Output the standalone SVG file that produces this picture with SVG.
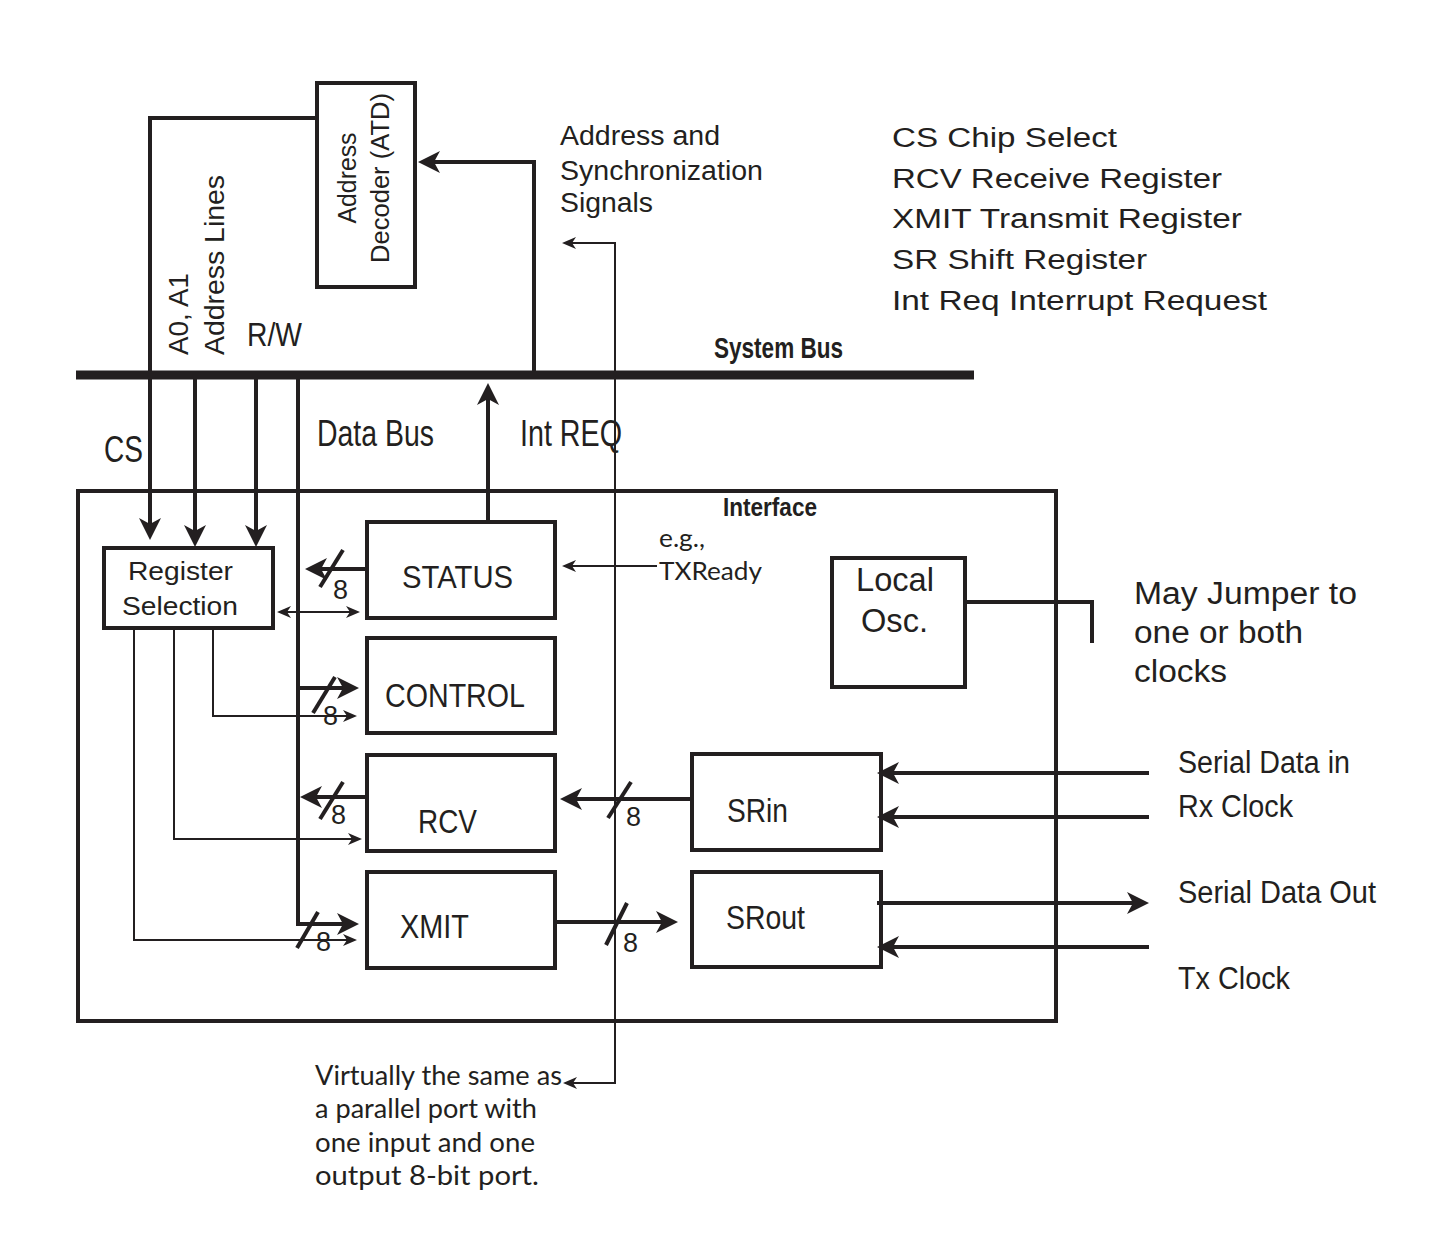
<svg xmlns="http://www.w3.org/2000/svg" width="1450" height="1258" viewBox="0 0 1450 1258">
<style>
  .box{fill:none;stroke:#231f20;stroke-width:4}
  .w{fill:none;stroke:#231f20;stroke-width:4}
  .t{fill:none;stroke:#231f20;stroke-width:2}
  .bus{fill:none;stroke:#231f20;stroke-width:9}
  text{fill:#231f20;font-family:"Liberation Sans",Arial,sans-serif}
  .b{font-weight:bold}
  .h{font-family:Lato,"Open Sans",sans-serif}
</style>
<defs>
  <marker id="ah" markerUnits="userSpaceOnUse" markerWidth="24" markerHeight="24" refX="12" refY="12" orient="auto" overflow="visible">
    <path d="M0,1 L22,12 L0,23 L6,12 Z" fill="#231f20"/>
  </marker>
  <marker id="as" markerUnits="userSpaceOnUse" markerWidth="16" markerHeight="14" refX="6" refY="7" orient="auto-start-reverse" overflow="visible">
    <path d="M0,1 L14,7 L0,13 L4,7 Z" fill="#231f20"/>
  </marker>
</defs>
<rect width="1450" height="1258" fill="#ffffff"/>

<g id="system-bus">
  <line class="bus" x1="76" y1="375" x2="974" y2="375"/>
  <text class="b" x="714" y="358" font-size="29" textLength="129" lengthAdjust="spacingAndGlyphs">System Bus</text>
</g>

<g id="interface">
  <rect class="box" x="78" y="491" width="978" height="530"/>
  <text class="b" x="723" y="516" font-size="26" textLength="94" lengthAdjust="spacingAndGlyphs">Interface</text>
</g>

<g id="address-decoder">
  <rect class="box" x="317" y="83" width="98" height="204"/>
  <text transform="translate(356,178) rotate(-90)" text-anchor="middle" font-size="26" textLength="91" lengthAdjust="spacingAndGlyphs">Address</text>
  <text transform="translate(389,178) rotate(-90)" text-anchor="middle" font-size="26" textLength="170" lengthAdjust="spacingAndGlyphs">Decoder (ATD)</text>
</g>

<g id="register-selection">
  <rect class="box" x="104" y="548" width="169" height="80"/>
  <text x="128" y="580" font-size="25" textLength="105" lengthAdjust="spacingAndGlyphs">Register</text>
  <text x="122" y="615" font-size="25" textLength="116" lengthAdjust="spacingAndGlyphs">Selection</text>
</g>

<g id="status">
  <rect class="box" x="367" y="522" width="188" height="96"/>
  <text x="402" y="588" font-size="32" textLength="111" lengthAdjust="spacingAndGlyphs">STATUS</text>
</g>
<g id="control">
  <rect class="box" x="367" y="638" width="188" height="95"/>
  <text x="385" y="707" font-size="34" textLength="140" lengthAdjust="spacingAndGlyphs">CONTROL</text>
</g>
<g id="rcv">
  <rect class="box" x="367" y="755" width="188" height="96"/>
  <text x="418" y="833" font-size="34" textLength="59" lengthAdjust="spacingAndGlyphs">RCV</text>
</g>
<g id="xmit">
  <rect class="box" x="367" y="872" width="188" height="96"/>
  <text x="400" y="938" font-size="34" textLength="69" lengthAdjust="spacingAndGlyphs">XMIT</text>
</g>
<g id="srin">
  <rect class="box" x="692" y="754" width="189" height="96"/>
  <text x="727" y="822" font-size="34" textLength="61" lengthAdjust="spacingAndGlyphs">SRin</text>
</g>
<g id="srout">
  <rect class="box" x="692" y="872" width="189" height="95"/>
  <text x="726" y="929" font-size="34" textLength="79" lengthAdjust="spacingAndGlyphs">SRout</text>
</g>
<g id="local-osc">
  <rect class="box" x="832" y="558" width="133" height="129"/>
  <text x="856" y="591" font-size="33" textLength="78" lengthAdjust="spacingAndGlyphs">Local</text>
  <text x="861" y="632" font-size="33" textLength="67" lengthAdjust="spacingAndGlyphs">Osc.</text>
</g>

<g id="connectors">
  <path class="w" d="M317,118 H150 V530" marker-end="url(#ah)"/>
  <path class="w" d="M195,375 V537" marker-end="url(#ah)"/>
  <path class="w" d="M256,375 V537" marker-end="url(#ah)"/>
  <path class="w" d="M298,375 V924 H349" marker-end="url(#ah)"/>
  <path class="w" d="M534,375 V162 H428" marker-end="url(#ah)"/>
  <path class="w" d="M488,522 V393" marker-end="url(#ah)"/>
  <path class="w" d="M367,569 H315" marker-end="url(#ah)"/>
  <path class="w" d="M298,688 H349" marker-end="url(#ah)"/>
  <path class="w" d="M367,797 H310" marker-end="url(#ah)"/>
  <path class="w" d="M692,799 H570" marker-end="url(#ah)"/>
  <path class="w" d="M555,922 H668" marker-end="url(#ah)"/>
  <path class="w" d="M1149,773 H887" marker-end="url(#ah)"/>
  <path class="w" d="M1149,817 H887" marker-end="url(#ah)"/>
  <path class="w" d="M877,903 H1139" marker-end="url(#ah)"/>
  <path class="w" d="M1149,947 H887" marker-end="url(#ah)"/>
  <path class="w" d="M965,602 H1092 V643"/>
  <path class="t" d="M285,612 H352" marker-start="url(#as)" marker-end="url(#as)"/>
  <path class="t" d="M213,628 V716 H349" marker-end="url(#as)"/>
  <path class="t" d="M174,628 V839 H354" marker-end="url(#as)"/>
  <path class="t" d="M134,628 V940 H349" marker-end="url(#as)"/>
  <path class="t" d="M570,243 H615 V1083 H571" marker-start="url(#as)" marker-end="url(#as)"/>
  <path class="t" d="M657,566 H570" marker-end="url(#as)"/>
  <g class="w">
    <line x1="320" y1="587" x2="343" y2="550"/>
    <line x1="313" y1="713" x2="335" y2="677"/>
    <line x1="320" y1="819" x2="343" y2="782"/>
    <line x1="297" y1="948" x2="318" y2="912"/>
    <line x1="608" y1="818" x2="631" y2="782"/>
    <line x1="606" y1="945" x2="627" y2="903"/>
  </g>
  <g font-size="28">
    <text x="333" y="599" textLength="15" lengthAdjust="spacingAndGlyphs">8</text>
    <text x="323" y="725" textLength="15" lengthAdjust="spacingAndGlyphs">8</text>
    <text x="331" y="824" textLength="15" lengthAdjust="spacingAndGlyphs">8</text>
    <text x="316" y="951" textLength="15" lengthAdjust="spacingAndGlyphs">8</text>
    <text x="626" y="826" textLength="15" lengthAdjust="spacingAndGlyphs">8</text>
    <text x="623" y="952" textLength="15" lengthAdjust="spacingAndGlyphs">8</text>
  </g>
</g>

<g id="labels">
  <text transform="translate(188,355) rotate(-90)" font-size="27" textLength="82" lengthAdjust="spacingAndGlyphs">A0, A1</text>
  <text transform="translate(224,355) rotate(-90)" font-size="28" textLength="180" lengthAdjust="spacingAndGlyphs">Address Lines</text>
  <text x="247" y="346" font-size="34" textLength="55" lengthAdjust="spacingAndGlyphs">R/W</text>
  <text x="104" y="462" font-size="36" textLength="39" lengthAdjust="spacingAndGlyphs">CS</text>
  <text x="317" y="446" font-size="36" textLength="117" lengthAdjust="spacingAndGlyphs">Data Bus</text>
  <text x="520" y="446" font-size="36" textLength="102" lengthAdjust="spacingAndGlyphs">Int REQ</text>
  <text x="560" y="145" font-size="27" textLength="160" lengthAdjust="spacingAndGlyphs">Address and</text>
  <text x="560" y="180" font-size="27" textLength="203" lengthAdjust="spacingAndGlyphs">Synchronization</text>
  <text x="560" y="212" font-size="27" textLength="93" lengthAdjust="spacingAndGlyphs">Signals</text>
  <text x="892" y="147" font-size="27" textLength="225" lengthAdjust="spacingAndGlyphs">CS Chip Select</text>
  <text x="892" y="188" font-size="27" textLength="330" lengthAdjust="spacingAndGlyphs">RCV Receive Register</text>
  <text x="892" y="228" font-size="27" textLength="350" lengthAdjust="spacingAndGlyphs">XMIT Transmit Register</text>
  <text x="892" y="269" font-size="27" textLength="255" lengthAdjust="spacingAndGlyphs">SR Shift Register</text>
  <text x="892" y="310" font-size="27" textLength="375" lengthAdjust="spacingAndGlyphs">Int Req Interrupt Request</text>
  <text class="h" x="659" y="547" font-size="25" textLength="46" lengthAdjust="spacingAndGlyphs">e.g.,</text>
  <text class="h" x="659" y="580" font-size="25" textLength="103" lengthAdjust="spacingAndGlyphs">TXReady</text>
  <text x="1134" y="604" font-size="31" textLength="223" lengthAdjust="spacingAndGlyphs">May Jumper to</text>
  <text x="1134" y="643" font-size="31" textLength="169" lengthAdjust="spacingAndGlyphs">one or both</text>
  <text x="1134" y="682" font-size="31" textLength="93" lengthAdjust="spacingAndGlyphs">clocks</text>
  <text x="1178" y="773" font-size="31" textLength="172" lengthAdjust="spacingAndGlyphs">Serial Data in</text>
  <text x="1178" y="817" font-size="31" textLength="115" lengthAdjust="spacingAndGlyphs">Rx Clock</text>
  <text x="1178" y="903" font-size="31" textLength="198" lengthAdjust="spacingAndGlyphs">Serial Data Out</text>
  <text x="1178" y="989" font-size="31" textLength="112" lengthAdjust="spacingAndGlyphs">Tx Clock</text>
  <text class="h" x="315" y="1085" font-size="27" textLength="247" lengthAdjust="spacingAndGlyphs">Virtually the same as</text>
  <text class="h" x="315" y="1118" font-size="27" textLength="222" lengthAdjust="spacingAndGlyphs">a parallel port with</text>
  <text class="h" x="315" y="1152" font-size="27" textLength="220" lengthAdjust="spacingAndGlyphs">one input and one</text>
  <text class="h" x="315" y="1185" font-size="27" textLength="224" lengthAdjust="spacingAndGlyphs">output 8-bit port.</text>
</g>
</svg>
